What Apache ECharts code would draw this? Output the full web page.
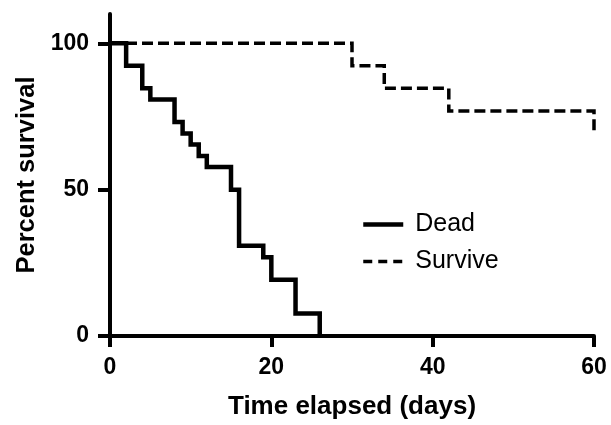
<!DOCTYPE html>
<html>
<head>
<meta charset="utf-8">
<script src="https://cdn.jsdelivr.net/npm/echarts@6/dist/echarts.min.js"></script>
<style>html,body{margin:0;padding:0;background:#fff;}#c{width:611px;height:425px;}</style>
</head>
<body>
<div id="c"></div>
<script>
const seriesNames = ['Dead', 'Survive'];
const deadDays = [0, 2, 4, 5, 8, 9, 10, 11, 12, 15, 16, 19, 20, 23, 26];
const deadPct = [100, 92.3, 84.6, 80.8, 73.1, 69.2, 65.4, 61.5, 57.7, 50, 30.8, 26.9, 19.2, 7.7, 0];
const surviveDays = [0, 30, 34, 42, 60];
const survivePct = [100, 92.3, 84.6, 76.9, 69.2];
const xTicks = [0, 20, 40, 60];
const yTicks = [0, 50, 100];
const xTitle = 'Time elapsed (days)';
const yTitle = 'Percent survival';

const FONT = '"Liberation Sans", Arial, Helvetica, sans-serif';
const toPairs = (xs, ys) => xs.map((x, i) => [x, ys[i]]);

const chart = echarts.init(document.getElementById('c'), null, {renderer: 'canvas'});
chart.setOption({
  animation: false,
  backgroundColor: '#fff',
  grid: {left: 110, right: 17, top: 14, bottom: 87, containLabel: false},
  legend: {
    orient: 'vertical',
    left: 356,
    top: 207,
    itemWidth: 40,
    itemHeight: 14,
    itemGap: 12,
    data: [
      {name: seriesNames[0], itemStyle: {opacity: 0}, lineStyle: {color: '#000', width: 4.5, type: 'solid'}},
      {name: seriesNames[1], itemStyle: {opacity: 0}, lineStyle: {color: '#000', width: 3.5, type: [9, 6]}}
    ],
    textStyle: {fontFamily: FONT, fontSize: 25, color: '#000', padding: [0, 0, 0, 7]}
  },
  xAxis: {
    type: 'value',
    min: 0, max: 60, interval: 20,
    name: xTitle,
    nameLocation: 'middle',
    nameGap: 58,
    nameTextStyle: {fontFamily: FONT, fontSize: 26, fontWeight: 'bold', color: '#000'},
    axisLine: {show: true, lineStyle: {color: '#000', width: 4}},
    axisTick: {show: true, inside: false, length: 11, lineStyle: {color: '#000', width: 4}, customValues: xTicks},
    axisLabel: {fontFamily: FONT, fontSize: 23, fontWeight: 'bold', color: '#000', margin: 20, customValues: xTicks},
    splitLine: {show: false}
  },
  yAxis: {
    type: 'value',
    min: 0, max: 110,
    name: yTitle,
    nameLocation: 'middle',
    nameGap: 70,
    nameTextStyle: {fontFamily: FONT, fontSize: 25.5, fontWeight: 'bold', color: '#000'},
    axisLine: {show: true, lineStyle: {color: '#000', width: 4}},
    axisTick: {show: true, inside: false, length: 12, lineStyle: {color: '#000', width: 4}, customValues: yTicks},
    axisLabel: {fontFamily: FONT, fontSize: 23, fontWeight: 'bold', color: '#000', margin: 21, customValues: yTicks},
    splitLine: {show: false}
  },
  series: [
    {
      name: seriesNames[0],
      type: 'line',
      step: 'end',
      symbol: 'none',
      clip: false,
      data: toPairs(deadDays, deadPct),
      lineStyle: {color: '#000', width: 4.5, type: 'solid', cap: 'butt', join: 'miter'},
      itemStyle: {color: '#000'},
      z: 3
    },
    {
      name: seriesNames[1],
      type: 'line',
      step: 'end',
      symbol: 'none',
      clip: false,
      data: toPairs(surviveDays, survivePct),
      lineStyle: {color: '#000', width: 3.5, type: [11, 5], cap: 'butt', join: 'miter'},
      itemStyle: {color: '#000'},
      z: 3
    }
  ]
});
</script>
</body>
</html>
